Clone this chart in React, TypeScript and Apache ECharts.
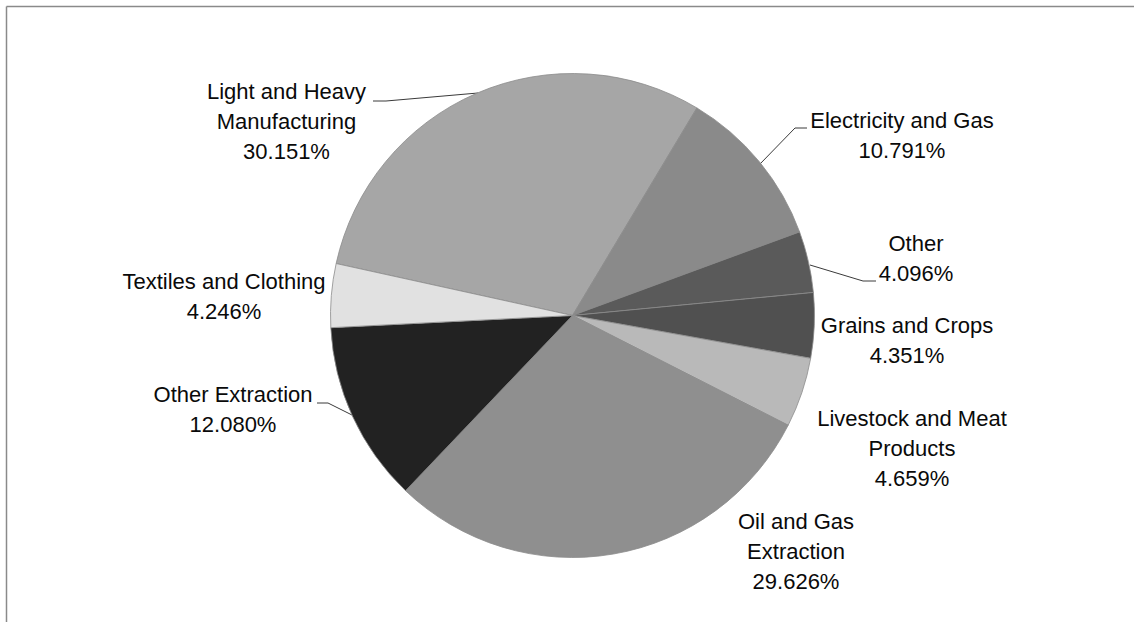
import React, { useEffect, useRef } from "react";
import * as echarts from "echarts";

// Data (clockwise order as drawn)
const categories = [
  "Light and Heavy Manufacturing",
  "Electricity and Gas",
  "Other",
  "Grains and Crops",
  "Livestock and Meat Products",
  "Oil and Gas Extraction",
  "Other Extraction",
  "Textiles and Clothing",
];
const shares = [30.151, 10.791, 4.096, 4.351, 4.659, 29.626, 12.08, 4.246];
const labelNames = [
  "Light and Heavy\nManufacturing",
  "Electricity and Gas",
  "Other",
  "Grains and Crops",
  "Livestock and Meat\nProducts",
  "Oil and Gas\nExtraction",
  "Other Extraction",
  "Textiles and Clothing",
];

// Styling / layout
const sliceColors = [
  "#a6a6a6",
  "#8a8a8a",
  "#5a5a5a",
  "#505050",
  "#b9b9b9",
  "#8f8f8f",
  "#222222",
  "#e1e1e1",
];
const labelPos: [number, number][] = [
  [286.5, 121],
  [902, 135],
  [916, 258],
  [907, 340],
  [912, 448],
  [796, 551],
  [233, 409],
  [224, 296],
];
const leaderLines: ([number, number][] | null)[] = [
  [[478, 93], [386, 101], [373, 101]],
  [[760, 164], [795, 128], [807, 128]],
  [[810, 265], [863, 281], [876, 281]],
  null,
  null,
  null,
  [[352, 415], [328, 403], [317, 403]],
  null,
];

export default function App() {
  const ref = useRef<HTMLDivElement>(null);
  useEffect(() => {
    if (!ref.current) return;
    const chart = echarts.init(ref.current, undefined, { renderer: "svg" });
    chart.setOption({
      animation: false,
      backgroundColor: "#ffffff",
      graphic: [
        {
          type: "line",
          shape: { x1: 6.5, y1: 6.5, x2: 1134, y2: 6.5 },
          style: { stroke: "#8a8a8a", lineWidth: 1.5 },
          silent: true,
        },
        {
          type: "line",
          shape: { x1: 6.5, y1: 6.5, x2: 6.5, y2: 622 },
          style: { stroke: "#8a8a8a", lineWidth: 1.5 },
          silent: true,
        },
      ],
      series: [
        {
          type: "pie",
          center: [572.5, 315.5],
          radius: 242,
          startAngle: 167.6,
          clockwise: true,
          avoidLabelOverlap: false,
          itemStyle: { borderColor: "#8c8c8c", borderWidth: 0.8 },
          label: {
            show: true,
            position: "outside",
            fontFamily: "'Liberation Sans', Arial, sans-serif",
            fontSize: 22,
            lineHeight: 30,
            color: "#0a0a0a",
            align: "center",
            formatter: (p: any) =>
              labelNames[p.dataIndex] + "\n" + Number(p.value).toFixed(3) + "%",
          },
          labelLine: {
            show: true,
            lineStyle: { color: "#3a3a3a", width: 1 },
          },
          labelLayout: (p: any) => {
            const i = p.dataIndex;
            const pos = labelPos[i];
            const res: any = {
              x: pos[0],
              y: pos[1],
              align: "center",
              verticalAlign: "middle",
            };
            if (leaderLines[i]) res.labelLinePoints = leaderLines[i];
            return res;
          },
          emphasis: { disabled: true },
          data: categories.map((c, i) => ({
            name: c,
            value: shares[i],
            itemStyle: { color: sliceColors[i] },
            labelLine: { show: !!leaderLines[i] },
          })),
        },
      ],
    });
    return () => chart.dispose();
  }, []);
  return (
    <div
      ref={ref}
      style={{ position: "fixed", left: 0, top: 0, width: 1134, height: 622 }}
    />
  );
}
